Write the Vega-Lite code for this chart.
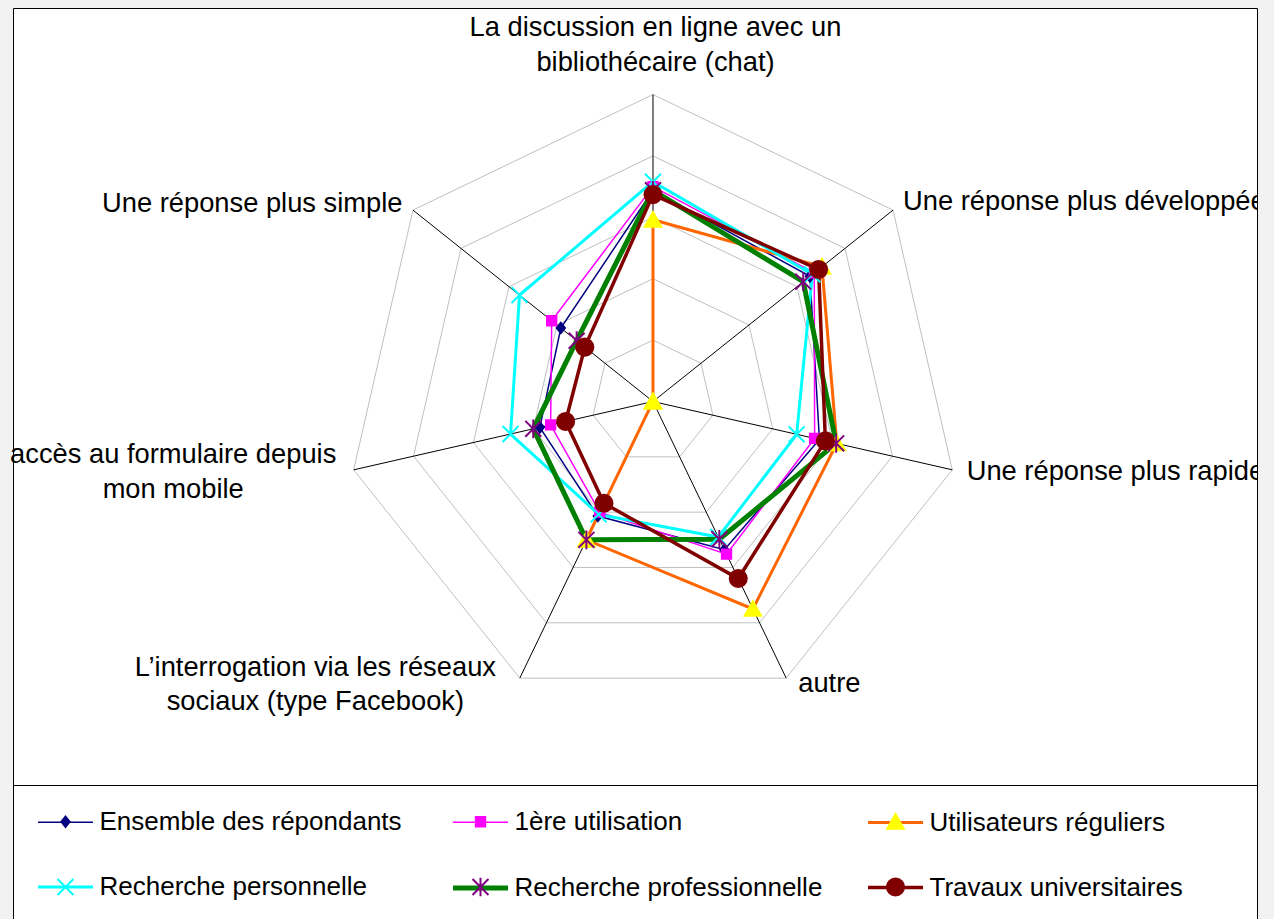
{
  "$schema": "https://vega.github.io/schema/vega-lite/v6.json",
  "autosize": {"type": "none"},
  "padding": {"left": 13, "top": 8, "right": 17, "bottom": 0},
  "width": 1244,
  "height": 911,
  "background": "#F2F2F2",
  "config": {"view": {"stroke": "#000000", "strokeWidth": 1, "fill": "#FFFFFF"}},
  "datasets": {
    "reponses": [
      {"serie": "Ensemble des répondants", "axe": 0, "valeur": 34.4},
      {"serie": "Ensemble des répondants", "axe": 1, "valeur": 32.7},
      {"serie": "Ensemble des répondants", "axe": 2, "valeur": 27.8},
      {"serie": "Ensemble des répondants", "axe": 3, "valeur": 26.8},
      {"serie": "Ensemble des répondants", "axe": 4, "valeur": 20.7},
      {"serie": "Ensemble des répondants", "axe": 5, "valeur": 18.9},
      {"serie": "Ensemble des répondants", "axe": 6, "valeur": 19.2},
      {"serie": "1ère utilisation", "axe": 0, "valeur": 35.0},
      {"serie": "1ère utilisation", "axe": 1, "valeur": 33.6},
      {"serie": "1ère utilisation", "axe": 2, "valeur": 27.0},
      {"serie": "1ère utilisation", "axe": 3, "valeur": 27.6},
      {"serie": "1ère utilisation", "axe": 4, "valeur": 20.0},
      {"serie": "1ère utilisation", "axe": 5, "valeur": 17.1},
      {"serie": "1ère utilisation", "axe": 6, "valeur": 21.1},
      {"serie": "Utilisateurs réguliers", "axe": 0, "valeur": 29.6},
      {"serie": "Utilisateurs réguliers", "axe": 1, "valeur": 35.2},
      {"serie": "Utilisateurs réguliers", "axe": 2, "valeur": 30.7},
      {"serie": "Utilisateurs réguliers", "axe": 3, "valeur": 37.5},
      {"serie": "Utilisateurs réguliers", "axe": 4, "valeur": 25.0},
      {"serie": "Utilisateurs réguliers", "axe": 5, "valeur": 0},
      {"serie": "Utilisateurs réguliers", "axe": 6, "valeur": 0},
      {"serie": "Recherche personnelle", "axe": 0, "valeur": 35.8},
      {"serie": "Recherche personnelle", "axe": 1, "valeur": 33.2},
      {"serie": "Recherche personnelle", "axe": 2, "valeur": 24.0},
      {"serie": "Recherche personnelle", "axe": 3, "valeur": 24.5},
      {"serie": "Recherche personnelle", "axe": 4, "valeur": 20.4},
      {"serie": "Recherche personnelle", "axe": 5, "valeur": 23.8},
      {"serie": "Recherche personnelle", "axe": 6, "valeur": 27.8},
      {"serie": "Recherche professionnelle", "axe": 0, "valeur": 34.4},
      {"serie": "Recherche professionnelle", "axe": 1, "valeur": 31.3},
      {"serie": "Recherche professionnelle", "axe": 2, "valeur": 30.6},
      {"serie": "Recherche professionnelle", "axe": 3, "valeur": 24.9},
      {"serie": "Recherche professionnelle", "axe": 4, "valeur": 25.0},
      {"serie": "Recherche professionnelle", "axe": 5, "valeur": 20.0},
      {"serie": "Recherche professionnelle", "axe": 6, "valeur": 15.9},
      {"serie": "Travaux universitaires", "axe": 0, "valeur": 33.7},
      {"serie": "Travaux universitaires", "axe": 1, "valeur": 34.5},
      {"serie": "Travaux universitaires", "axe": 2, "valeur": 28.8},
      {"serie": "Travaux universitaires", "axe": 3, "valeur": 32.0},
      {"serie": "Travaux universitaires", "axe": 4, "valeur": 18.4},
      {"serie": "Travaux universitaires", "axe": 5, "valeur": 14.6},
      {"serie": "Travaux universitaires", "axe": 6, "valeur": 14.2}
    ],
    "criteres": [
      {"axe": 0, "libelle": "La discussion en ligne avec un\nbibliothécaire (chat)"},
      {"axe": 1, "libelle": "Une réponse plus développée"},
      {"axe": 2, "libelle": "Une réponse plus rapide"},
      {"axe": 3, "libelle": "autre"},
      {"axe": 4, "libelle": "L’interrogation via les réseaux\nsociaux (type Facebook)"},
      {"axe": 5, "libelle": "accès au formulaire depuis\nmon mobile"},
      {"axe": 6, "libelle": "Une réponse plus simple"}
    ],
    "grille": [
      {"niveau": 10, "axes": [0, 1, 2, 3, 4, 5, 6]},
      {"niveau": 20, "axes": [0, 1, 2, 3, 4, 5, 6]},
      {"niveau": 30, "axes": [0, 1, 2, 3, 4, 5, 6]},
      {"niveau": 40, "axes": [0, 1, 2, 3, 4, 5, 6]},
      {"niveau": 50, "axes": [0, 1, 2, 3, 4, 5, 6]}
    ]
  },
  "resolve": {"scale": {"stroke": "independent", "fill": "independent", "shape": "independent", "strokeWidth": "independent"}},
  "layer": [
    {
      "data": {"name": "grille"},
      "transform": [
        {"flatten": ["axes"], "as": ["axe"]},
        {"calculate": "datum.niveau*sin(2*PI*datum.axe/7)", "as": "gx"},
        {"calculate": "datum.niveau*cos(2*PI*datum.axe/7)", "as": "gy"}
      ],
      "mark": {"type": "line", "interpolate": "linear-closed", "color": "#C0C0C0", "strokeWidth": 1},
      "encoding": {
        "x": {"field": "gx", "type": "quantitative", "axis": null, "scale": {"domain": [-104.23, 98.37], "nice": false, "zero": false}},
        "y": {"field": "gy", "type": "quantitative", "axis": null, "scale": {"domain": [-84.28, 64.09], "nice": false, "zero": false}},
        "detail": {"field": "niveau", "type": "nominal"},
        "order": {"field": "axe", "type": "quantitative"}
      }
    },
    {
      "data": {"name": "criteres"},
      "transform": [
        {"calculate": "50*sin(2*PI*datum.axe/7)", "as": "vx"},
        {"calculate": "50*cos(2*PI*datum.axe/7)", "as": "vy"}
      ],
      "encoding": {
        "x": {"field": "vx", "type": "quantitative", "axis": null, "scale": {"domain": [-104.23, 98.37], "nice": false, "zero": false}},
        "y": {"field": "vy", "type": "quantitative", "axis": null, "scale": {"domain": [-84.28, 64.09], "nice": false, "zero": false}}
      },
      "layer": [
        {
          "mark": {"type": "rule", "color": "#000000", "strokeWidth": 1},
          "encoding": {"x2": {"datum": 0}, "y2": {"datum": 0}}
        },
        {
          "transform": [{"filter": "datum.axe == 0"}],
          "mark": {"type": "text", "align": "center", "baseline": "alphabetic", "dx": 2.5, "dy": -58.5, "lineBreak": "\n", "lineHeight": 35, "font": "Liberation Sans", "fontSize": 27.3, "color": "#000000"},
          "encoding": {"text": {"field": "libelle", "type": "nominal"}}
        },
        {
          "transform": [{"filter": "datum.axe == 1"}],
          "mark": {"type": "text", "align": "left", "baseline": "alphabetic", "dx": 10, "dy": 0, "clip": true, "font": "Liberation Sans", "fontSize": 27.3, "color": "#000000"},
          "encoding": {"text": {"field": "libelle", "type": "nominal"}}
        },
        {
          "transform": [{"filter": "datum.axe == 2"}],
          "mark": {"type": "text", "align": "left", "baseline": "alphabetic", "dx": 14.4, "dy": 10.2, "clip": true, "font": "Liberation Sans", "fontSize": 27.3, "color": "#000000"},
          "encoding": {"text": {"field": "libelle", "type": "nominal"}}
        },
        {
          "transform": [{"filter": "datum.axe == 3"}],
          "mark": {"type": "text", "align": "left", "baseline": "alphabetic", "dx": 12, "dy": 13.6, "font": "Liberation Sans", "fontSize": 27.3, "color": "#000000"},
          "encoding": {"text": {"field": "libelle", "type": "nominal"}}
        },
        {
          "transform": [{"filter": "datum.axe == 4"}],
          "mark": {"type": "text", "align": "center", "baseline": "alphabetic", "dx": -204.4, "dy": -2.1, "lineBreak": "\n", "lineHeight": 34, "font": "Liberation Sans", "fontSize": 27.3, "color": "#000000"},
          "encoding": {"text": {"field": "libelle", "type": "nominal"}}
        },
        {
          "transform": [{"filter": "datum.axe == 5"}],
          "mark": {"type": "text", "align": "center", "baseline": "alphabetic", "dx": -180.5, "dy": -6.5, "lineBreak": "\n", "lineHeight": 35, "font": "Liberation Sans", "fontSize": 27.3, "color": "#000000"},
          "encoding": {"text": {"field": "libelle", "type": "nominal"}}
        },
        {
          "transform": [{"filter": "datum.axe == 6"}],
          "mark": {"type": "text", "align": "right", "baseline": "alphabetic", "dx": -10.5, "dy": 1.6, "font": "Liberation Sans", "fontSize": 27.3, "color": "#000000"},
          "encoding": {"text": {"field": "libelle", "type": "nominal"}}
        }
      ]
    },
    {
      "data": {"name": "reponses"},
      "transform": [
        {"calculate": "datum.valeur*sin(2*PI*datum.axe/7)", "as": "px"},
        {"calculate": "datum.valeur*cos(2*PI*datum.axe/7)", "as": "py"}
      ],
      "mark": {"type": "line", "interpolate": "linear-closed"},
      "encoding": {
        "x": {"field": "px", "type": "quantitative", "axis": null, "scale": {"domain": [-104.23, 98.37], "nice": false, "zero": false}},
        "y": {"field": "py", "type": "quantitative", "axis": null, "scale": {"domain": [-84.28, 64.09], "nice": false, "zero": false}},
        "order": {"field": "axe", "type": "quantitative"},
        "stroke": {
          "field": "serie", "type": "nominal",
          "scale": {"domain": ["Ensemble des répondants", "1ère utilisation", "Utilisateurs réguliers", "Recherche personnelle", "Recherche professionnelle", "Travaux universitaires"],
                    "range": ["#000080", "#FF00FF", "#FF6600", "#00FFFF", "#008000", "#800000"]},
          "legend": {"orient": "none", "legendX": 0, "legendY": 777, "direction": "horizontal", "columns": 3, "gridAlign": "all", "title": [" ", " "], "titleOrient": "right", "titleAnchor": "start", "titlePadding": 66, "titleFontSize": 1, "titleLineHeight": 130, "symbolType": "stroke", "symbolSize": 3025, "symbolOffset": 14.5, "labelOffset": 4, "labelFont": "Liberation Sans", "labelFontSize": 26, "labelColor": "#000000", "labelLimit": 600, "columnPadding": 28, "rowPadding": 22, "padding": 8, "strokeColor": "#000000", "symbolOpacity": 1}
        },
        "strokeWidth": {
          "field": "serie", "type": "nominal",
          "scale": {"type": "ordinal", "domain": ["Ensemble des répondants", "1ère utilisation", "Utilisateurs réguliers", "Recherche personnelle", "Recherche professionnelle", "Travaux universitaires"],
                    "range": [1.5, 1.5, 3, 3, 5, 3.5]},
          "legend": {"orient": "none", "legendX": 0, "legendY": 777, "direction": "horizontal", "columns": 3, "gridAlign": "all", "title": [" ", " "], "titleOrient": "right", "titleAnchor": "start", "titlePadding": 66, "titleFontSize": 1, "titleLineHeight": 130, "symbolType": "stroke", "symbolSize": 3025, "symbolOffset": 14.5, "labelOffset": 4, "labelFont": "Liberation Sans", "labelFontSize": 26, "labelColor": "#000000", "labelLimit": 600, "columnPadding": 28, "rowPadding": 22, "padding": 8, "strokeColor": "#000000", "symbolOpacity": 1}
        }
      }
    },
    {
      "data": {"name": "reponses"},
      "transform": [
        {"calculate": "datum.valeur*sin(2*PI*datum.axe/7)", "as": "px"},
        {"calculate": "datum.valeur*cos(2*PI*datum.axe/7)", "as": "py"}
      ],
      "mark": {"type": "point", "filled": true, "size": 3025, "strokeWidth": 2, "opacity": 1},
      "encoding": {
        "x": {"field": "px", "type": "quantitative", "axis": null, "scale": {"domain": [-104.23, 98.37], "nice": false, "zero": false}},
        "y": {"field": "py", "type": "quantitative", "axis": null, "scale": {"domain": [-84.28, 64.09], "nice": false, "zero": false}},
        "shape": {
          "field": "serie", "type": "nominal",
          "scale": {"domain": ["Ensemble des répondants", "1ère utilisation", "Utilisateurs réguliers", "Recherche personnelle", "Recherche professionnelle", "Travaux universitaires"],
                    "range": [
                      "M0,-0.19L0.15,0L0,0.19L-0.15,0Z",
                      "M-0.17,-0.17H0.17V0.17H-0.17Z",
                      "M0,-0.28L0.3,0.25L-0.3,0.25Z",
                      "M-0.29,-0.29L0.29,0.29M-0.29,0.29L0.29,-0.29",
                      "M-0.29,-0.29L0.29,0.29M-0.29,0.29L0.29,-0.29M0,-0.34V0.34",
                      "M0.31,0L0.286,0.119L0.219,0.219L0.119,0.286L0,0.31L-0.119,0.286L-0.219,0.219L-0.286,0.119L-0.31,0L-0.286,-0.119L-0.219,-0.219L-0.119,-0.286L0,-0.31L0.119,-0.286L0.219,-0.219L0.286,-0.119Z"
                    ]},
          "legend": {"orient": "none", "legendX": 0, "legendY": 777, "direction": "horizontal", "columns": 3, "gridAlign": "all", "title": null, "symbolSize": 3025, "symbolStrokeWidth": 2, "symbolOffset": 16, "labelOffset": 0, "labelExpr": "''", "labelFont": "Liberation Sans", "labelFontSize": 26, "labelLimit": 600, "columnPadding": 342, "rowPadding": 23.5, "padding": 8, "symbolOpacity": 1}
        },
        "fill": {
          "field": "serie", "type": "nominal",
          "scale": {"domain": ["Ensemble des répondants", "1ère utilisation", "Utilisateurs réguliers", "Recherche personnelle", "Recherche professionnelle", "Travaux universitaires"],
                    "range": ["#000080", "#FF00FF", "#FFFF00", "#00FFFF", "#800080", "#800000"]},
          "legend": {"orient": "none", "legendX": 0, "legendY": 777, "direction": "horizontal", "columns": 3, "gridAlign": "all", "title": null, "symbolSize": 3025, "symbolStrokeWidth": 2, "symbolOffset": 16, "labelOffset": 0, "labelExpr": "''", "labelFont": "Liberation Sans", "labelFontSize": 26, "labelLimit": 600, "columnPadding": 342, "rowPadding": 23.5, "padding": 8, "symbolOpacity": 1}
        },
        "stroke": {
          "field": "serie", "type": "nominal",
          "scale": {"domain": ["Ensemble des répondants", "1ère utilisation", "Utilisateurs réguliers", "Recherche personnelle", "Recherche professionnelle", "Travaux universitaires"],
                    "range": ["#000080", "#FF00FF", "#FFFF00", "#00FFFF", "#800080", "#800000"]},
          "legend": {"orient": "none", "legendX": 0, "legendY": 777, "direction": "horizontal", "columns": 3, "gridAlign": "all", "title": null, "symbolSize": 3025, "symbolStrokeWidth": 2, "symbolOffset": 16, "labelOffset": 0, "labelExpr": "''", "labelFont": "Liberation Sans", "labelFontSize": 26, "labelLimit": 600, "columnPadding": 342, "rowPadding": 23.5, "padding": 8, "symbolOpacity": 1}
        }
      }
    }
  ]
}
